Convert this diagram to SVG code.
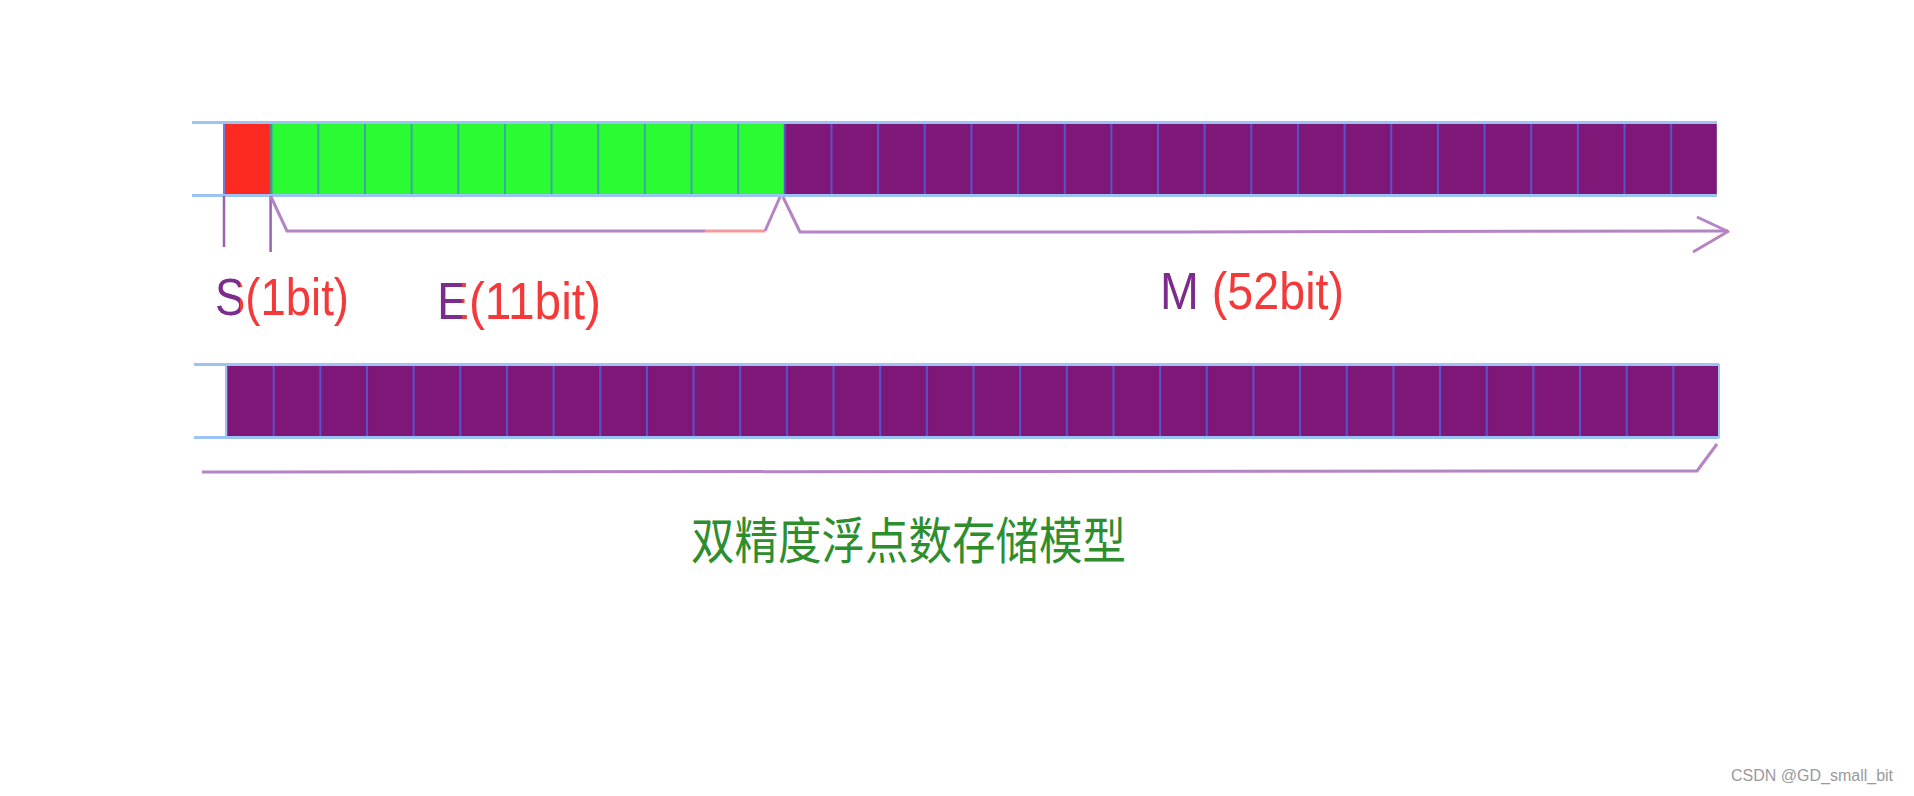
<svg xmlns="http://www.w3.org/2000/svg" width="1914" height="796" viewBox="0 0 1914 796">
  <style>
    .edge { stroke: #9cc3f5; stroke-width: 3; fill: none; }
    .lbl { font-family: "Liberation Sans", Arial, sans-serif; font-size: 52px; }
    .brace { fill: none; stroke: #b584c4; stroke-width: 3; stroke-linejoin: round; }
    .tick { fill: none; stroke: #9a62aa; stroke-width: 2.5; }
    .cp { stop-color: #7b2c8c; }
    .cr { stop-color: #f4393b; }
  </style>
  <defs>
    <pattern id="sepTopG" patternUnits="userSpaceOnUse" x="224" y="0" width="46.65" height="796">
      <rect x="0" y="0" width="2" height="796" fill="#3aa7a0"/>
    </pattern>
    <pattern id="sepTopP" patternUnits="userSpaceOnUse" x="224" y="0" width="46.65" height="796">
      <rect x="0" y="0" width="2" height="796" fill="#5a52cc"/>
    </pattern>
    <pattern id="sepBot" patternUnits="userSpaceOnUse" x="226" y="0" width="46.656" height="796">
      <rect x="0" y="0" width="2" height="796" fill="#5a52cc"/>
    </pattern>
    <linearGradient id="gS" gradientUnits="userSpaceOnUse" x1="0" y1="0" x2="1914" y2="0">
      <stop offset="0.1254" class="cp"/><stop offset="0.1254" class="cr"/>
    </linearGradient>
    <linearGradient id="gE" gradientUnits="userSpaceOnUse" x1="0" y1="0" x2="1914" y2="0">
      <stop offset="0.2414" class="cp"/><stop offset="0.2414" class="cr"/>
    </linearGradient>
    <linearGradient id="gM" gradientUnits="userSpaceOnUse" x1="0" y1="0" x2="1914" y2="0">
      <stop offset="0.6296" class="cp"/><stop offset="0.6296" class="cr"/>
    </linearGradient>
  </defs>
  <rect width="1914" height="796" fill="#ffffff"/>

  <g id="row-top">
    <rect x="224" y="122" width="46.65" height="74" fill="#fd2a21"/>
    <rect x="270.65" y="122" width="513.15" height="74" fill="#2bfb32"/>
    <rect x="270.65" y="122" width="513.15" height="74" fill="url(#sepTopG)"/>
    <rect x="783.8" y="122" width="933" height="74" fill="#7e1778"/>
    <rect x="783.8" y="122" width="933" height="74" fill="url(#sepTopP)"/>
    <line x1="224" y1="122" x2="224" y2="196" stroke="#6a7fd8" stroke-width="2"/>
    <line x1="270.65" y1="122" x2="270.65" y2="196" stroke="#4a8f90" stroke-width="2"/>
    <line x1="192" y1="122.5" x2="1717" y2="122.5" class="edge"/>
    <line x1="192" y1="195.5" x2="1717" y2="195.5" class="edge"/>
  </g>

  <g id="row-bottom">
    <rect x="226" y="364" width="1493" height="74" fill="#7e1778"/>
    <rect x="226" y="364" width="1493" height="74" fill="url(#sepBot)"/>
    <line x1="194" y1="364.5" x2="1719" y2="364.5" class="edge"/>
    <line x1="194" y1="437.5" x2="1719" y2="437.5" class="edge"/>
    <line x1="226" y1="364" x2="226" y2="438" stroke="#9cc3f5" stroke-width="2"/>
    <line x1="1719" y1="364" x2="1719" y2="438" stroke="#9cc3f5" stroke-width="2"/>
  </g>

  <g id="connectors">
    <line x1="224" y1="196" x2="224" y2="247" class="tick"/>
    <line x1="270.6" y1="196" x2="270.6" y2="252" class="tick"/>
    <polyline points="270.6,196 287,231 705,231" class="brace"/>
    <polyline points="705,231 765,231" fill="none" stroke="#f49a9a" stroke-width="3"/>
    <polyline points="765,231 780,197" class="brace"/>
    <polyline points="783,197 800,232 1182,232 1728,231" class="brace"/>
    <polyline points="1697,217 1728,231.5 1693,252" class="brace"/>
    <polyline points="202,472 1697,471 1717,444" class="brace" stroke-width="4"/>
  </g>

  <g id="labels">
    <text class="lbl" fill="url(#gS)" x="215" y="315" textLength="134" lengthAdjust="spacingAndGlyphs">S(1bit)</text>
    <text class="lbl" fill="url(#gE)" x="437" y="319" textLength="164" lengthAdjust="spacingAndGlyphs">E(11bit)</text>
    <text class="lbl" fill="url(#gM)" x="1160" y="309" textLength="184" lengthAdjust="spacingAndGlyphs">M (52bit)</text>
    <text x="691" y="559" font-family="Noto Sans CJK SC, sans-serif" font-size="50" fill="#2e8e2e" textLength="435" lengthAdjust="spacingAndGlyphs">双精度浮点数存储模型</text>
    <text x="1731" y="781" font-family="Liberation Sans, Arial, sans-serif" font-size="16" fill="#9a9a9a">CSDN @GD_small_bit</text>
  </g>
</svg>
